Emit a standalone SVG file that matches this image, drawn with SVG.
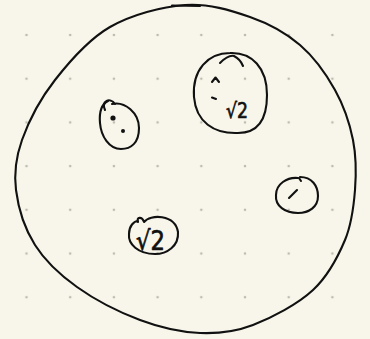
<svg xmlns="http://www.w3.org/2000/svg" width="370" height="339" viewBox="0 0 370 339">
<style>
.ink{fill:none;stroke:#111;stroke-width:2.1;stroke-linecap:round;stroke-linejoin:round}
.dot{fill:#bdbab0}
.t{font-family:"DejaVu Sans",sans-serif;fill:#111;stroke:#111;stroke-width:0.7}
</style>
<defs>
<pattern id="grid" x="0" y="0" width="43.7" height="43.7" patternUnits="userSpaceOnUse" patternTransform="translate(26.5,35)">
<circle class="dot" cx="0" cy="0" r="1.3"/>
<circle class="dot" cx="43.7" cy="0" r="1.3"/>
<circle class="dot" cx="0" cy="43.7" r="1.3"/>
<circle class="dot" cx="43.7" cy="43.7" r="1.3"/>
</pattern>
</defs>
<rect width="370" height="339" fill="#f8f6ea"/>
<rect x="20" y="30" width="320" height="275" fill="url(#grid)"/>
<g id="outer">
<path class="ink" d="M185,5 C208.3,3.3 230.8,10.3 250,17 C269.2,23.7 285.8,32.8 300,45 C314.2,57.2 326.2,74.2 335,90 C343.8,105.8 349.7,123.3 353,140 C356.3,156.7 356.3,173.3 355,190 C353.7,206.7 352,223.3 345,240 C338,256.7 328.3,275.8 313,290 C297.7,304.2 271.8,317.8 253,325 C234.2,332.2 218.8,333.8 200,333 C181.2,332.2 160.5,327.7 140,320 C119.5,312.3 94.5,299.5 77,287 C59.5,274.5 45.2,261.2 35,245 C24.8,228.8 18.2,207.5 16,190 C13.8,172.5 15.5,158.3 22,140 C28.5,121.7 40.3,98.8 55,80 C69.7,61.2 88.3,39.5 110,27 C131.7,14.5 161.7,6.7 185,5 Z"/>
<path class="ink" d="M172,5.5 L200,6"/>
</g>
<g id="blob1">
<path class="ink" d="M105,110 C101,101 110,97 115,104"/>
<path class="ink" d="M112,104 C125,101 139,113 139,128 C139,143 131,149 121,149 C109,149 101,136 100,123 C99,112 102,104 108,101"/>
<circle cx="113" cy="118" r="2.6" fill="#111"/>
<circle cx="123" cy="131" r="2" fill="#111"/>
</g>
<g id="blob2">
<path class="ink" d="M230,53 C252,52 267,68 267,95 C267,120 258,133 238,133 C214,134 196,122 194,97 C192,70 208,53 230,53 Z"/>
<path class="ink" d="M220,63 C225,58 230,55 234,56 C238,58 241,61 243,66"/>
<path class="ink" d="M212,82 L215.5,77.5 L219,82"/>
<path class="ink" d="M212,97.5 L216,99"/>
<text class="t" x="226" y="118" font-size="21" textLength="22" lengthAdjust="spacingAndGlyphs">√2</text>
</g>
<g id="blob3">
<path class="ink" d="M300,177 C312,177 318,186 318,196 C318,207 309,213 298,213 C285,213 275,206 276,195 C276,184 287,177 298,178"/>
<path class="ink" d="M299,178 L301,181"/>
<path class="ink" d="M289,198 L297,190"/>
</g>
<g id="blob4">
<path class="ink" d="M138,222 C136,217 142,216 144,222 C150,214 175,214 178,232 C179,246 167,254 155,254 C138,254 128,244 129,234 C129,226 134,221 138,221"/>
<text class="t" x="136" y="250" font-size="27" textLength="29" lengthAdjust="spacingAndGlyphs">√2</text>
</g>
</svg>
